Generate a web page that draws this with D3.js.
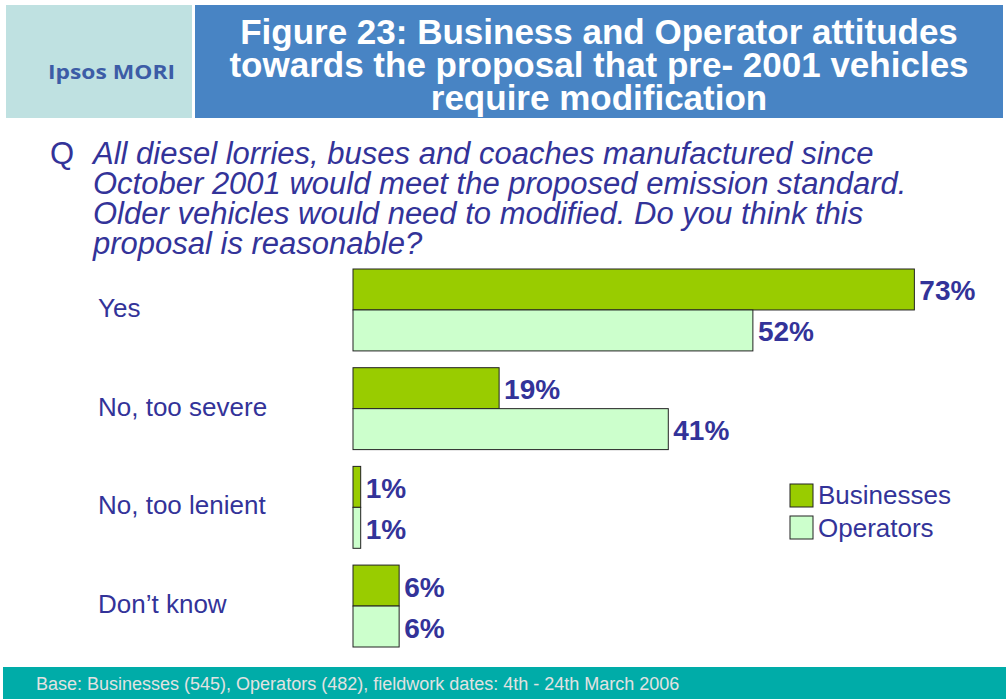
<!DOCTYPE html>
<html><head><meta charset="utf-8">
<script src="https://cdn.jsdelivr.net/npm/d3@7"></script>
<style>body{margin:0;background:#fff}svg{display:block}</style>
</head><body>
<script>
const categories = ["Yes", "No, too severe", "No, too lenient", "Don\u2019t know"];
const seriesNames = ["Businesses", "Operators"];
const businesses = [73, 19, 1, 6];
const operators = [52, 41, 1, 6];
const titleLines = ["Figure 23: Business and Operator attitudes", "towards the proposal that pre- 2001 vehicles", "require modification"];
const questionLines = ["All diesel lorries, buses and coaches manufactured since", "October 2001 would meet the proposed emission standard.", "Older vehicles would need to modified. Do you think this", "proposal is reasonable?"];
const footerText = "Base: Businesses (545), Operators (482), fieldwork dates: 4th - 24th March 2006";

const W = 1006, H = 699;
const colors = ["#99CC00", "#CCFFCC"];
const textBlue = "#333399";
const ff = "Liberation Sans, Arial, sans-serif";
const svg = d3.select("body").append("svg").attr("width", W).attr("height", H);

// header
svg.append("rect").attr("x", 6).attr("y", 5).attr("width", 186).attr("height", 113).attr("fill", "#BFE1E1");
svg.append("rect").attr("x", 195).attr("y", 5).attr("width", 808).attr("height", 113).attr("fill", "#4884C4");
svg.append("text").attr("x", 48).attr("y", 79)
  .attr("font-family", "Open Sans, Liberation Sans, sans-serif").attr("font-weight", "bold").attr("font-size", 20)
  .attr("fill", "#3C5CA6").attr("textLength", 127).attr("lengthAdjust", "spacingAndGlyphs").text("Ipsos MORI");
svg.append("g").selectAll("text").data(titleLines).join("text")
  .attr("x", 599).attr("y", (d, i) => 44 + i * 33).attr("text-anchor", "middle")
  .attr("font-family", ff).attr("font-weight", "bold").attr("font-size", 35)
  .attr("fill", "#fff").text(d => d);

// question
svg.append("text").attr("x", 50).attr("y", 164).attr("font-family", ff).attr("font-size", 31).attr("fill", textBlue).text("Q");
svg.append("g").selectAll("text").data(questionLines).join("text")
  .attr("x", 93).attr("y", (d, i) => 164 + i * 30)
  .attr("font-family", ff).attr("font-style", "italic").attr("font-size", 31).attr("fill", textBlue).text(d => d);

// chart
const x = d3.scaleLinear().domain([0, 100]).range([353, 353 + 769]);
const y = d3.scaleBand().domain(categories).range([269, 647]).paddingInner(0.17).paddingOuter(0).align(0);
const y1 = d3.scaleBand().domain(seriesNames).range([0, y.bandwidth()]);

const data = categories.map((c, i) => ({c, vals: [businesses[i], operators[i]]}));
const g = svg.append("g");
const grp = g.selectAll("g.cat").data(data).join("g").attr("transform", d => `translate(0,${y(d.c)})`);
grp.selectAll("rect").data(d => d.vals.map((v, j) => ({v, s: seriesNames[j], j}))).join("rect")
  .attr("x", x(0)).attr("y", d => y1(d.s)).attr("width", d => x(d.v) - x(0)).attr("height", y1.bandwidth())
  .attr("fill", d => colors[d.j]).attr("stroke", "#222").attr("stroke-width", 1);
grp.selectAll("text.val").data(d => d.vals.map((v, j) => ({v, s: seriesNames[j], j}))).join("text")
  .attr("class", "val").attr("x", d => x(d.v) + 5).attr("y", d => y1(d.s) + y1.bandwidth() / 2 + 11)
  .attr("font-family", ff).attr("font-weight", "bold").attr("font-size", 28)
  .attr("fill", textBlue).text(d => d.v + "%");

// category labels
svg.append("g").selectAll("text").data(categories).join("text")
  .attr("x", 98).attr("y", d => y(d) + y.bandwidth() / 2 + 7)
  .attr("font-family", ff).attr("font-size", 26).attr("fill", textBlue).text(d => d);

// legend
const lg = svg.append("g").attr("transform", "translate(790,484)");
seriesNames.forEach((s, i) => {
  lg.append("rect").attr("x", 0).attr("y", i * 32).attr("width", 23).attr("height", 23)
    .attr("fill", colors[i]).attr("stroke", "#222").attr("stroke-width", 1);
  lg.append("text").attr("x", 28).attr("y", i * 33 + 20)
    .attr("font-family", ff).attr("font-size", 26).attr("fill", textBlue).text(s);
});

// footer
svg.append("rect").attr("x", 3).attr("y", 667).attr("width", W - 3).attr("height", 32).attr("fill", "#00ACA8");
svg.append("text").attr("x", 36).attr("y", 690)
  .attr("font-family", ff).attr("font-size", 18).attr("fill", "#E2E2E2").text(footerText);
</script>
</body></html>
